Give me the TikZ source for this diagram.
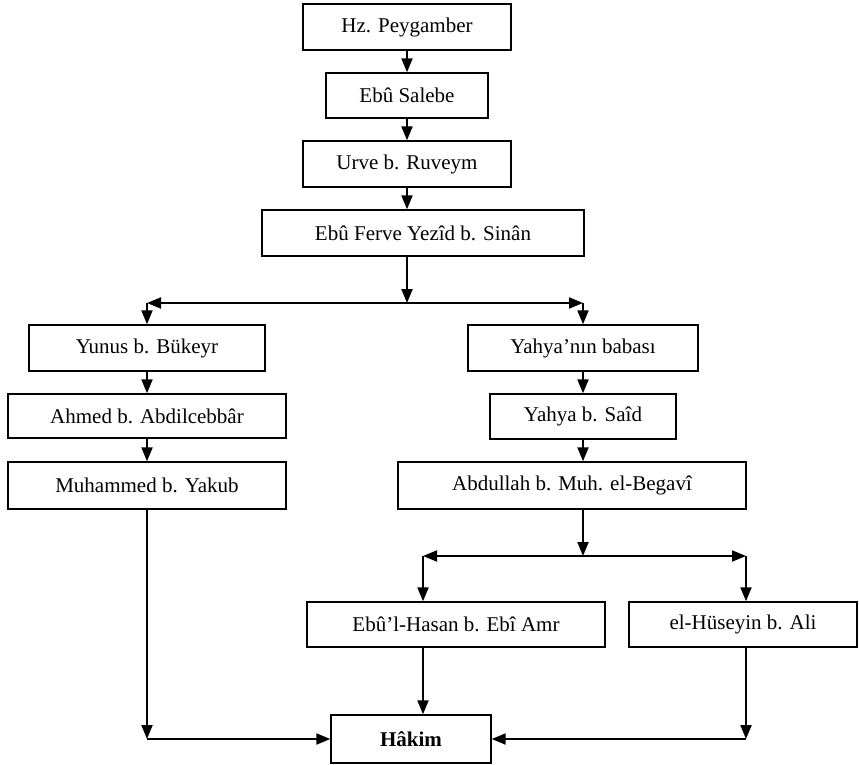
\documentclass[tikz,border=0pt]{standalone}
\usepackage{fontspec}
\setmainfont{Liberation Serif}
\usepackage{tikz}
\usetikzlibrary{positioning, arrows.meta}

\begin{document}
\begin{tikzpicture}[
    x=1pt, y=-1pt,
    % --- Stili per i nodi e le frecce ---
    font=\fontsize{21}{25}\selectfont,
    box/.style={draw, line width=1.4pt, inner sep=0, minimum height=46pt},
    arr/.style={line width=2pt, -{Triangle[length=14pt, width=11pt]}}
]
\useasboundingbox (0,0) rectangle (859,765);

% 1. Catena in alto
\node (hz) [box, minimum width=208pt] at (407,27) {Hz. Peygamber};
\node (salebe) [box, minimum width=162pt, minimum height=45pt] at (407,95.5) {Ebû Salebe};
\node (urve) [box, minimum width=208pt] at (407,164) {Urve b. Ruveym};
\node (ferve) [box, minimum width=322pt] at (423,233) {Ebû Ferve Yezîd b. Sinân};

\draw[arr] (hz.south -| hz) -- (salebe.north -| hz);
\draw[arr] (salebe.south -| hz) -- (urve.north -| hz);
\draw[arr] (urve.south -| hz) -- (ferve.north -| hz);

% 2. Ramo sinistro
\node (yunus) [box, minimum width=236pt] at (147,348) {Yunus b. Bükeyr};
\node (ahmed) [box, minimum width=278pt, minimum height=44pt] at (147,416) {Ahmed b. Abdilcebbâr};
\node (muhammed) [box, minimum width=278pt, minimum height=47pt] at (147,485.5) {Muhammed b. Yakub};

% 3. Ramo destro
\node (babasi) [box, minimum width=230pt] at (583,348) {Yahya’nın babası};
\node (said) [box, minimum width=186pt, minimum height=45pt] at (583,416.5) {Yahya b. Saîd};
\node (abdullah) [box, minimum width=348pt, minimum height=47pt] at (572,485.5) {Abdullah b. Muh. el-Begavî};

% 4. Biforcazione sotto Ebû Ferve
\coordinate (split1) at (407,303);
\coordinate (split1L) at (yunus.north |- split1);
\coordinate (split1R) at (babasi.north |- split1);
\draw[arr] (ferve.south -| split1) -- (split1);
\draw[arr] (split1) -- (split1L);
\draw[arr] (split1) -- (split1R);
\draw[arr] (split1L) -- (yunus.north);
\draw[arr] (split1R) -- (babasi.north);

\draw[arr] (yunus) -- (ahmed);
\draw[arr] (ahmed) -- (muhammed);
\draw[arr] (babasi) -- (said);
\draw[arr] (said.south -| babasi) -- (abdullah.north -| babasi);

% 5. Biforcazione sotto Abdullah
\node (ebul) [box, minimum width=298pt, minimum height=45pt] at (456,624.5) {Ebû’l-Hasan b. Ebî Amr};
\node (huseyin) [box, minimum width=228pt, minimum height=45pt] at (743,624.5) {el-Hüseyin b. Ali};

\coordinate (split2) at (583,556);
\coordinate (split2L) at (423,556);
\coordinate (split2R) at (746,556);
\draw[arr] (abdullah.south -| split2) -- (split2);
\draw[arr] (split2) -- (split2L);
\draw[arr] (split2) -- (split2R);
\draw[arr] (split2L) -- (ebul.north -| split2L);
\draw[arr] (split2R) -- (huseyin.north -| split2R);

% 6. Hâkim e le linee finali
\node (hakim) [box, minimum width=160pt, minimum height=48pt] at (411,739) {\textbf{Hâkim}};

\coordinate (cornerL) at (muhammed.south |- hakim);
\coordinate (cornerR) at (split2R |- hakim);
\draw[arr] (muhammed.south) -- (cornerL);
\draw[arr] (cornerL) -- (hakim.west);
\draw[arr] (huseyin.south -| split2R) -- (cornerR);
\draw[arr] (cornerR) -- (hakim.east);
\draw[arr] (ebul.south -| split2L) -- (hakim.north -| split2L);
\end{tikzpicture}
\end{document}
